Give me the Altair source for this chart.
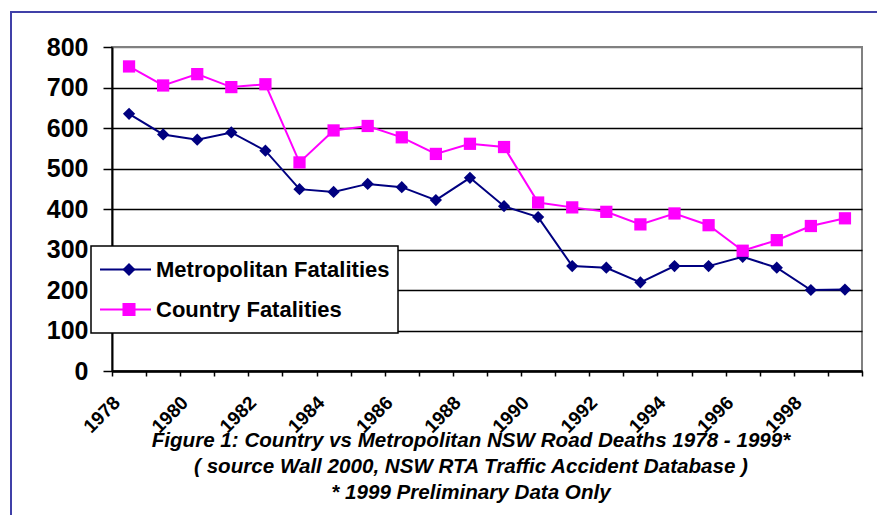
import altair as alt
import pandas as pd

# ---- data ----
years = list(range(1978, 2000))
metro = [635, 584, 571, 589, 544, 449, 442, 462, 454, 422, 477, 407,
         380, 259, 255, 219, 259, 259, 282, 255, 200, 201]
country = [752, 705, 733, 701, 708, 515, 594, 605, 577, 536, 561, 553,
           416, 404, 393, 362, 389, 360, 297, 323, 358, 377]
series_names = ["Metropolitan Fatalities", "Country Fatalities"]
series_colors = ["#000080", "#FF00FF"]
series_shapes = ["diamond", "square"]
y_ticks = [0, 100, 200, 300, 400, 500, 600, 700, 800]
x_label_years = [1978, 1980, 1982, 1984, 1986, 1988, 1990, 1992, 1994, 1996, 1998]
caption = [
    "Figure 1: Country vs Metropolitan NSW Road Deaths 1978 - 1999*",
    "( source Wall 2000, NSW RTA Traffic Accident Database )",
    "* 1999 Preliminary Data Only",
]

rows = []
for name, vals in zip(series_names, [metro, country]):
    for yr, v in zip(years, vals):
        rows.append({"Year": yr, "Deaths": v, "Series": name})
df = pd.DataFrame(rows)

FONT = "Liberation Sans"
band_edges = [y - 0.5 for y in years] + [years[-1] + 0.5]
x_scale = alt.Scale(domain=[years[0] - 0.5, years[-1] + 0.5], nice=False, zero=False)

# axis carrying the year labels (at category centres)
x_labels = alt.X(
    "Year:Q", title=None, scale=x_scale,
    axis=alt.Axis(
        orient="bottom", values=x_label_years, format="d",
        labelAngle=-45, labelAlign="right", labelBaseline="top",
        labelOffset=-19, labelPadding=22,
        labelFont=FONT, labelFontSize=19, labelFontWeight="bold", labelColor="black",
        labelOverlap=False, labelFlush=False, labelBound=False,
        ticks=False, tickSize=5,
        domainColor="black", domainWidth=2, grid=False,
    ),
)
# axis carrying the tick marks (between categories)
x_ticks = alt.X(
    "Year:Q", title=None, scale=x_scale,
    axis=alt.Axis(
        orient="bottom", values=band_edges, labels=False,
        ticks=True, tickColor="black", tickWidth=1.5, tickSize=5,
        domainColor="black", domainWidth=2, grid=False,
    ),
)
y_enc = alt.Y(
    "Deaths:Q",
    title=None,
    scale=alt.Scale(domain=[0, 800], nice=False),
    axis=alt.Axis(
        values=y_ticks,
        format="d",
        grid=True,
        gridColor={"condition": {"test": "datum.value == 800", "value": "#808080"}, "value": "black"},
        gridWidth=1.6,
        labelFont=FONT,
        labelFontSize=25,
        labelFontWeight="bold",
        labelColor="black",
        labelPadding=15,
        domainColor="black",
        domainWidth=2,
        tickColor="black",
        tickWidth=1.5,
        tickSize=9,
    ),
)

legend_lines = alt.Legend(
    orient="none", legendX=-21, legendY=199, direction="vertical", title=None,
    fillColor="white", strokeColor="black", padding=8, rowPadding=9, clipHeight=31,
    symbolType="stroke", symbolSize=2601, symbolStrokeWidth=2,
    labelFont=FONT, labelFontSize=22, labelFontWeight="bold", labelColor="black",
    labelOffset=4, labelLimit=400,
)
legend_points = alt.Legend(
    orient="none", legendX=-2, legendY=199, direction="vertical", title=None,
    padding=8, rowPadding=9, clipHeight=31,
    labelExpr="''", labelFontSize=22,
    symbolOpacity=1, symbolStrokeWidth=0, symbolSize=170,
)

frame = alt.Chart(alt.Data(values=[{"f": 1}])).mark_rect(
    filled=False, stroke="#4040a8", strokeWidth=2
).encode(x=alt.value(-101), x2=alt.value(900), y=alt.value(-35), y2=alt.value(470))

lines = alt.Chart(df).mark_line(strokeWidth=2).encode(
    x=x_labels, y=y_enc,
    color=alt.Color("Series:N", scale=alt.Scale(domain=series_names, range=series_colors),
                    legend=legend_lines),
)
points = alt.Chart(df).mark_point(filled=True, size=150, opacity=1).encode(
    x=x_ticks, y=y_enc,
    color=alt.Color("Series:N", scale=alt.Scale(domain=series_names, range=series_colors),
                    legend=legend_points),
    shape=alt.Shape("Series:N", scale=alt.Scale(domain=series_names, range=series_shapes),
                    legend=legend_points),
)

chart = alt.layer(frame, lines, points).resolve_scale(
    color="independent", shape="independent"
).resolve_legend(color="independent", shape="independent").resolve_axis(
    x="independent"
).properties(
    width=750,
    height=324,
    autosize=alt.AutoSizeParams(type="none"),
    padding={"left": 104, "top": 39, "right": 15, "bottom": 144},
    title=alt.TitleParams(
        text=caption, orient="bottom", anchor="middle", font=FONT, fontSize=20.6,
        fontWeight="bold", fontStyle="italic", lineHeight=26, offset=-87, dx=-16,
        color="black",
    ),
).configure(font=FONT).configure_view(
    stroke="#808080", strokeWidth=2
).configure_legend(strokeWidth=1.5)

chart.save("out.html", embed_options={"renderer": "svg", "actions": False})
